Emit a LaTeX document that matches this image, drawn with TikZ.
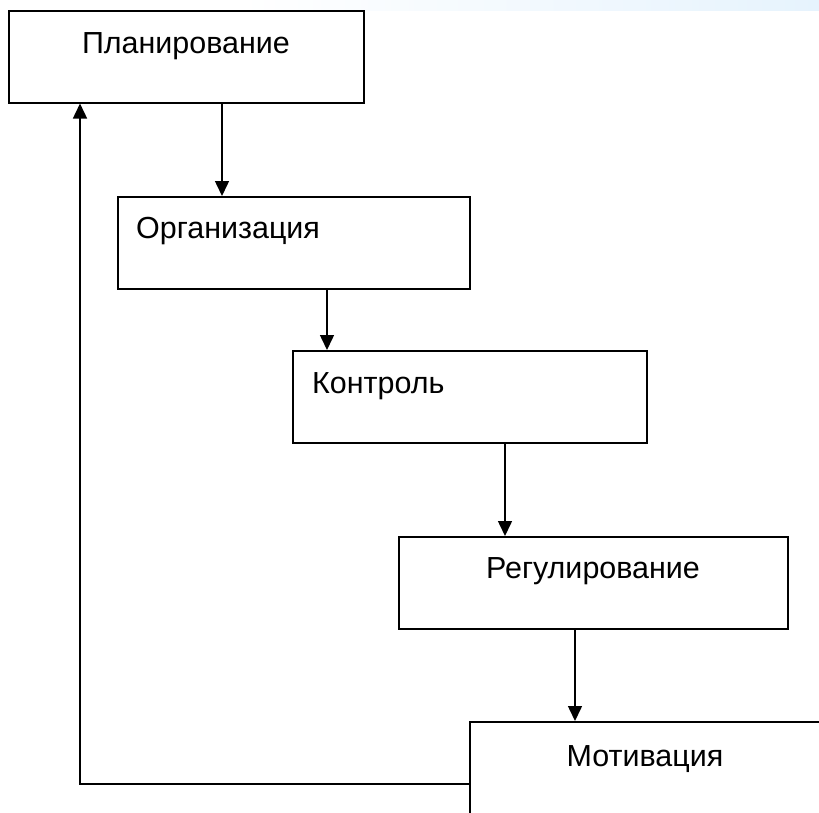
\documentclass[tikz,border=0pt]{standalone}
\usepackage{fontspec}
\setmainfont{Liberation Sans}
\usetikzlibrary{arrows.meta}
\definecolor{bandblue}{HTML}{E6F3FD}

\begin{document}
\begin{tikzpicture}[%
      x=0.03cm, y=-0.03cm,
      box/.style={draw, rectangle, line width=1.3pt, anchor=north west,
        inner sep=0pt, minimum height=2.76cm},
      lbl/.style={font=\fontsize{26}{30}\selectfont, inner sep=0pt, anchor=base},
      arr/.style={line width=1.3pt, -{Triangle[width=0.42cm,length=0.45cm]}},
      ]
      \useasboundingbox (0,0) rectangle (819,812);
      \clip (0,0) rectangle (819,812);
      \shade [left color=white, right color=bandblue] (240,0) rectangle (819,10);

      % boxes
      \node [box, minimum width=10.65cm] (plan) at (8,10) {};
      \node [box, minimum width=10.56cm] (org) at (117,196) {};
      \node [box, minimum width=10.62cm] (kontr) at (292,350) {};
      \node [box, minimum width=11.67cm] (reg) at (398,536) {};
      \node [box, minimum width=10.9cm, minimum height=3.3cm] (motiv) at (469,721) {};

      % texts
      \node [lbl] (tplan) at (186,53) {Планирование};
      \node [lbl, anchor=base west] (torg) at (136,238) {Организация};
      \node [lbl, anchor=base west] (tkontr) at (312,393) {Контроль};
      \node [lbl] (treg) at (593,578) {Регулирование};
      \node [lbl] (tmotiv) at (645,766) {Мотивация};

      % arrows
      \draw [arr] (222,0 |- plan.south) -- (222,0 |- org.north);
      \draw [arr] (327,0 |- org.south) -- (327,0 |- kontr.north);
      \draw [arr] (505,0 |- kontr.south) -- (505,0 |- reg.north);
      \draw [arr] (575,0 |- reg.south) -- (575,0 |- motiv.north);

      \coordinate (turn) at (80,784);
      \draw [arr] (motiv.west |- turn) -- (turn) -- (turn |- plan.south);
      \end{tikzpicture}
\end{document}
